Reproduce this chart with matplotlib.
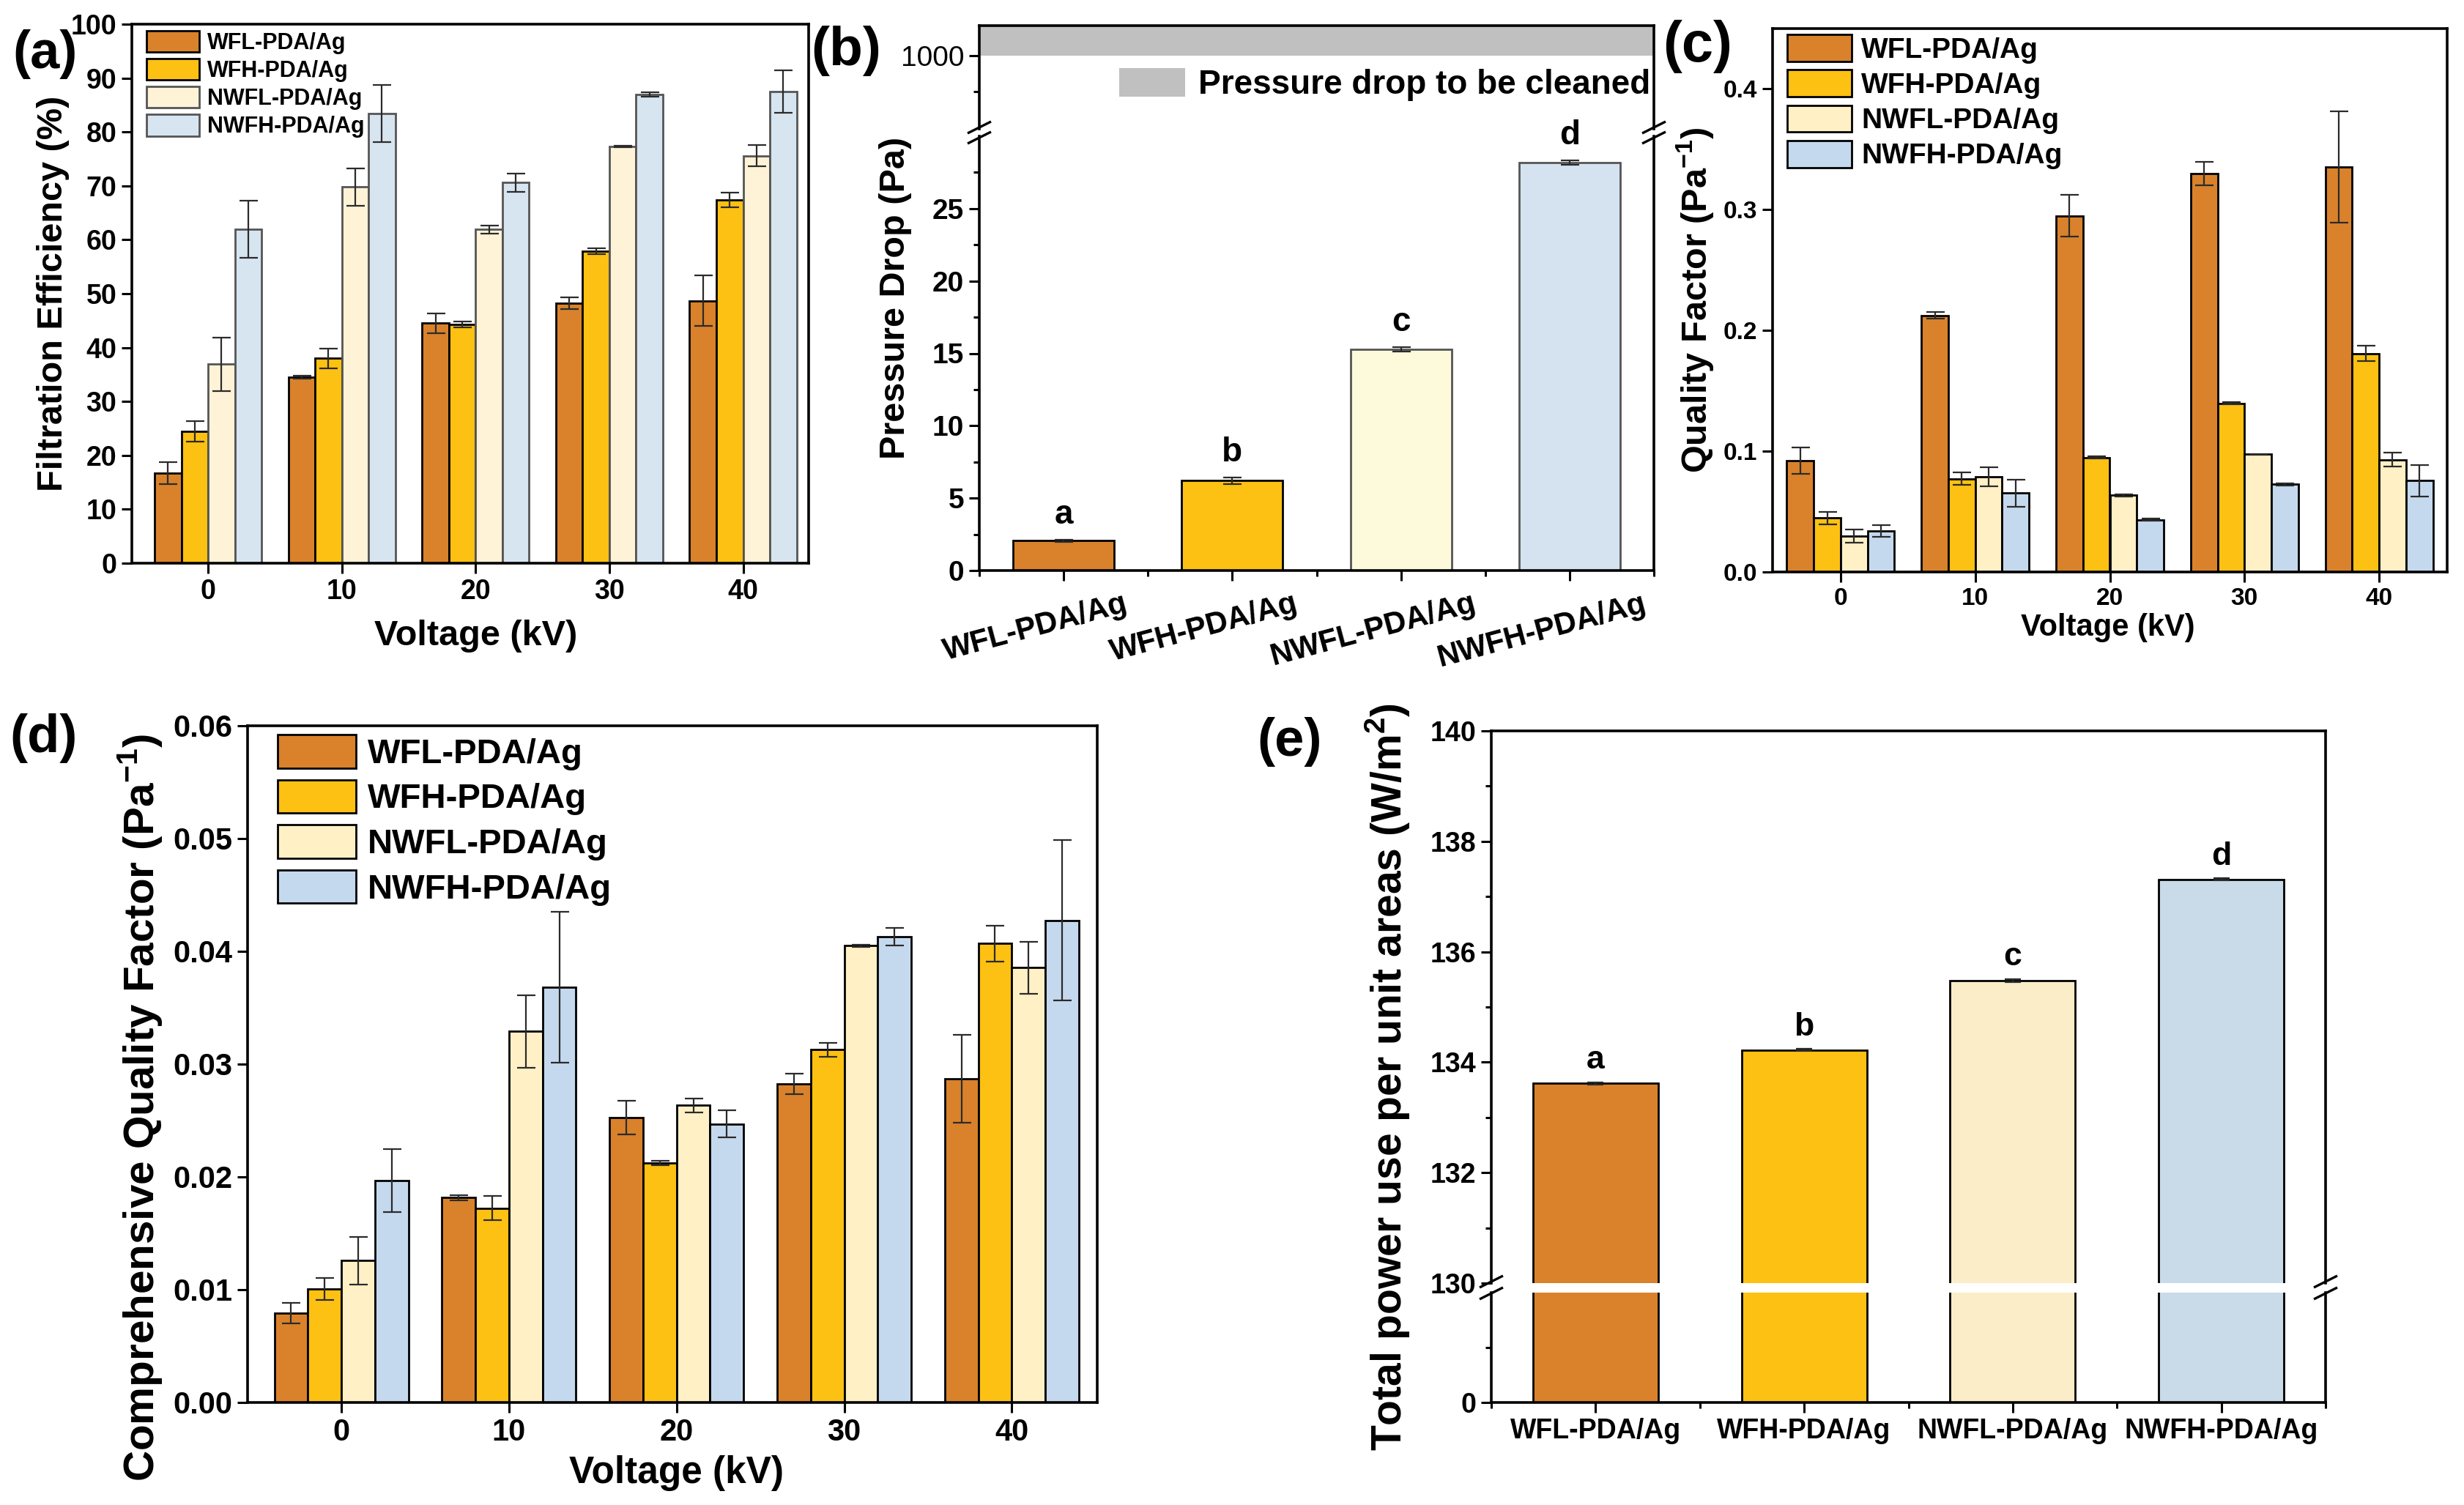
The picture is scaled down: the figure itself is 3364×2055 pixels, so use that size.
import numpy as np
import matplotlib
matplotlib.use('Agg')
import matplotlib.pyplot as plt
from matplotlib.lines import Line2D
from matplotlib.patches import Patch
from matplotlib.ticker import MultipleLocator, FixedLocator, FormatStrFormatter
from matplotlib.transforms import ScaledTranslation

W, H = 3364, 2055

plt.rcParams['font.family'] = ['Liberation Sans', 'DejaVu Sans']
plt.rcParams['font.weight'] = 'bold'
plt.rcParams['mathtext.fontset'] = 'custom'
plt.rcParams['mathtext.rm'] = 'Liberation Sans:bold'
plt.rcParams['mathtext.bf'] = 'Liberation Sans:bold'
plt.rcParams['axes.linewidth'] = 2.6

# ---- data ----
voltages = [0, 10, 20, 30, 40]
samples = ['WFL-PDA/Ag', 'WFH-PDA/Ag', 'NWFL-PDA/Ag', 'NWFH-PDA/Ag']

# (a) filtration efficiency (%), rows = samples, cols = voltage
eff_mean = [[16.7, 34.5, 44.5, 48.2, 48.7],
            [24.4, 38.0, 44.3, 57.9, 67.4],
            [36.9, 69.8, 61.9, 77.3, 75.6],
            [61.9, 83.4, 70.6, 87.0, 87.5]]
eff_err = [[2.0, 0.3, 1.8, 1.1, 4.7],
           [1.9, 1.8, 0.5, 0.5, 1.4],
           [5.0, 3.5, 0.8, 0.1, 2.0],
           [5.3, 5.3, 1.7, 0.4, 3.9]]

# (b) pressure drop (Pa)
pd_mean = [2.05, 6.2, 15.3, 28.2]
pd_err = [0.1, 0.25, 0.15, 0.15]
pd_letters = ['a', 'b', 'c', 'd']
clean_limit = 1000

# (c) quality factor (Pa^-1)
qf_mean = [[0.0923, 0.2125, 0.295, 0.330, 0.3355],
           [0.0446, 0.0773, 0.0948, 0.1397, 0.181],
           [0.0296, 0.0790, 0.0634, 0.0976, 0.093],
           [0.0341, 0.0652, 0.0432, 0.0725, 0.0756]]
qf_err = [[0.011, 0.0026, 0.0172, 0.0096, 0.046],
          [0.005, 0.005, 0.001, 0.001, 0.0066],
          [0.0055, 0.008, 0.001, 0.0003, 0.0056],
          [0.005, 0.0115, 0.001, 0.001, 0.013]]

# (d) comprehensive quality factor (Pa^-1)
cqf_mean = [[0.0079, 0.01815, 0.02524, 0.02826, 0.02871],
            [0.01006, 0.01724, 0.02126, 0.03128, 0.0407],
            [0.01257, 0.0329, 0.02634, 0.0405, 0.03855],
            [0.01966, 0.0368, 0.02469, 0.0413, 0.04275]]
cqf_err = [[0.0009, 0.0002, 0.0015, 0.0009, 0.0039],
           [0.001, 0.0011, 0.0002, 0.0006, 0.0016],
           [0.0021, 0.0032, 0.0006, 0.0001, 0.0023],
           [0.0028, 0.0067, 0.0012, 0.0008, 0.0071]]

# (e) total power use per unit area (W/m2)
power_mean = [133.62, 134.22, 135.48, 137.31]
power_err = [0.02, 0.02, 0.03, 0.02]
power_letters = ['a', 'b', 'c', 'd']

# ---- style ----
c_wfl, c_wfh = '#D9822B', '#FCC112'
pal_a = [c_wfl, c_wfh, '#FEF3D7', '#D7E5F1']
pal_b = [c_wfl, c_wfh, '#FDFADC', '#D5E3F0']
pal_c = [c_wfl, c_wfh, '#FFF0C6', '#C5D9EE']
pal_e = [c_wfl, c_wfh, '#FAEDC8', '#C9DAE8']
edge_soft = ['black', 'black', '#555555', '#555555']
edge_k = ['black'] * 4
ERR_KW = dict(ecolor='#2b2b2b', elinewidth=1.6, capthick=1.6)
offsets = np.linspace(-3, 3, 4)


def rect(l, t, r, b):
    return [l / W, 1 - b / H, (r - l) / W, (b - t) / H]


def style(ax, lsize):
    for s in ax.spines.values():
        s.set_linewidth(2.6)
    ax.tick_params(which='major', direction='out', length=10, width=2.2,
                   labelsize=lsize, pad=5, top=False, right=False)
    ax.tick_params(which='minor', direction='out', length=6, width=2.2,
                   top=False, right=False)
    for lab in ax.get_xticklabels() + ax.get_yticklabels():
        lab.set_fontweight('bold')


def grouped(ax, means, errs, colors, edges):
    x = np.array(voltages, dtype=float)
    for i in range(len(samples)):
        ax.bar(x + offsets[i], means[i], width=2, color=colors[i],
               edgecolor=edges[i], linewidth=2.0, label=samples[i],
               yerr=errs[i], capsize=9, error_kw=ERR_KW, zorder=2)
    ax.set_xticks(voltages)


def slashes(xpx, ypx, dy=7, half=(16, 8)):
    for d in (-dy, dy):
        fig.add_artist(Line2D([(xpx - half[0]) / W, (xpx + half[0]) / W],
                              [1 - (ypx + d + half[1]) / H, 1 - (ypx + d - half[1]) / H],
                              color='black', lw=2.4, solid_capstyle='butt'))


def panel_label(txt, xpx, ypx, size):
    fig.text(xpx / W, 1 - ypx / H, txt, fontsize=size, fontweight='bold',
             ha='center', va='center')


fig = plt.figure(figsize=(W / 100, H / 100), dpi=100)

# ---- (a) ----
ax = fig.add_axes(rect(180, 33, 1104, 769))
grouped(ax, eff_mean, eff_err, pal_a, edge_soft)
ax.set_xlim(-5.7, 44.9)
ax.set_ylim(0, 100)
ax.yaxis.set_major_locator(MultipleLocator(10))
style(ax, 27)
ax.set_ylabel('Filtration Efficiency (%)', fontsize=35, fontweight='bold')
ax.yaxis.set_label_coords(-0.092, 0.5)
ax.set_xlabel('Voltage (kV)', fontsize=35, fontweight='bold')
ax.xaxis.set_label_coords(0.508, -0.105)
ax.legend(loc='upper left', bbox_to_anchor=(0.022, 0.988), frameon=False,
          prop={'weight': 'bold', 'size': 22},
          handlelength=2.35, handleheight=1.1, labelspacing=0.2,
          handletextpad=0.35, borderpad=0, borderaxespad=0)
panel_label('(a)', 62, 74, 52)

# ---- (b) ----
axu = fig.add_axes(rect(1337, 35, 2258, 176))
axl = fig.add_axes(rect(1337, 186, 2258, 779))
xb = np.arange(len(samples))
axu.axhspan(clean_limit, 1042, color='#C0C0C0', lw=0)
axu.set_ylim(898, 1042)
axu.set_xlim(-0.5, 3.5)
axu.yaxis.set_major_locator(FixedLocator([clean_limit]))
axu.yaxis.set_minor_locator(FixedLocator([950]))
axu.set_xticks([])
axu.spines['bottom'].set_visible(False)
style(axu, 28)
for lab in axu.get_yticklabels():
    lab.set_fontweight('normal')
axu.legend(handles=[Patch(facecolor='#C0C0C0', edgecolor='none',
                          label='Pressure drop to be cleaned')],
           loc='center right', bbox_to_anchor=(0.995, 0.43), frameon=False,
           fontsize=33, handlelength=1.95, handleheight=0.95, handletextpad=0.4,
           borderpad=0, borderaxespad=0)

axl.bar(xb, pd_mean, width=0.6, color=pal_b, edgecolor=edge_soft, linewidth=2.0,
        yerr=pd_err, capsize=9, error_kw=ERR_KW, zorder=2)
for xi, m, e, t in zip(xb, pd_mean, pd_err, pd_letters):
    axl.text(xi, m + e + 0.6, t, ha='center', va='bottom', fontsize=33,
             fontweight='bold')
axl.set_xlim(-0.5, 3.5)
axl.set_ylim(0, 30)
axl.yaxis.set_major_locator(FixedLocator([0, 5, 10, 15, 20, 25]))
axl.yaxis.set_minor_locator(FixedLocator([2.5, 7.5, 12.5, 17.5, 22.5, 27.5]))
axl.set_xticks(xb)
axl.set_xticklabels(samples, rotation=15, ha='center')
axl.xaxis.set_minor_locator(FixedLocator([-0.5, 0.5, 1.5, 2.5, 3.5]))
axl.spines['top'].set_visible(False)
style(axl, 28)
axl.tick_params(axis='x', which='major', labelsize=30, pad=8)
shift = ScaledTranslation(-0.38, 0, fig.dpi_scale_trans)
for lab in axl.get_xticklabels():
    lab.set_transform(lab.get_transform() + shift)
axl.set_ylabel('Pressure Drop (Pa)', fontsize=35, fontweight='bold')
axl.yaxis.set_label_coords(-0.10, 0.627)
slashes(1337, 181)
slashes(2258, 181)
panel_label('(b)', 1155, 70, 54)

# ---- (c) ----
ax = fig.add_axes(rect(2420, 39, 3341, 781))
grouped(ax, qf_mean, qf_err, pal_c, edge_k)
ax.set_xlim(-5.06, 45.06)
ax.set_ylim(0, 0.45)
ax.yaxis.set_major_locator(MultipleLocator(0.1))
style(ax, 24)
ax.set_ylabel('Quality Factor (Pa$^{-1}$)', fontsize=35, fontweight='bold')
ax.yaxis.set_label_coords(-0.085, 0.5)
ax.set_xlabel('Voltage (kV)', fontsize=30, fontweight='bold')
ax.xaxis.set_label_coords(0.497, -0.075)
ax.legend(loc='upper left', bbox_to_anchor=(0.022, 0.989), frameon=False,
          fontsize=28, handlelength=2.26, handleheight=1.08, labelspacing=0.22,
          handletextpad=0.33, borderpad=0, borderaxespad=0)
panel_label('(c)', 2318, 64, 56)

# ---- (d) ----
ax = fig.add_axes(rect(338, 991, 1498, 1915))
grouped(ax, cqf_mean, cqf_err, pal_c, edge_k)
ax.set_xlim(-5.6, 45.1)
ax.set_ylim(0, 0.06)
ax.yaxis.set_major_locator(MultipleLocator(0.01))
ax.yaxis.set_major_formatter(FormatStrFormatter('%.2f'))
style(ax, 30)
ax.set_ylabel('Comprehensive Quality Factor (Pa$^{-1}$)', fontsize=42,
              fontweight='bold')
ax.yaxis.set_label_coords(-0.097, 0.436)
ax.set_xlabel('Voltage (kV)', fontsize=37, fontweight='bold')
ax.xaxis.set_label_coords(0.505, -0.078)
ax.legend(loc='upper left', bbox_to_anchor=(0.035, 0.987), frameon=False,
          fontsize=34, handlelength=2.27, handleheight=1.11, labelspacing=0.27,
          handletextpad=0.34, borderpad=0, borderaxespad=0)
panel_label('(d)', 60, 1008, 52)

# ---- (e) ----
axu = fig.add_axes(rect(2036, 998, 3175, 1752))
axl = fig.add_axes(rect(2036, 1765, 3175, 1915))
xe = np.arange(len(samples))
for a_ in (axu, axl):
    a_.bar(xe, power_mean, width=0.6, color=pal_e, edgecolor=edge_k,
           linewidth=2.0, zorder=2)
    a_.set_xlim(-0.5, 3.5)
axu.errorbar(xe, power_mean, yerr=power_err, fmt='none', capsize=8, **ERR_KW)
for xi, m, e, t in zip(xe, power_mean, power_err, power_letters):
    axu.text(xi, m + e + 0.12, t, ha='center', va='bottom', fontsize=32,
             fontweight='bold')
axu.set_ylim(130, 140)
axu.yaxis.set_major_locator(MultipleLocator(2))
axu.yaxis.set_minor_locator(MultipleLocator(1))
axu.set_xticks([])
axu.spines['bottom'].set_visible(False)
style(axu, 27)
axl.set_ylim(0, 2)
axl.yaxis.set_major_locator(FixedLocator([0]))
axl.yaxis.set_minor_locator(FixedLocator([1]))
axl.set_xticks(xe)
axl.set_xticklabels(samples)
axl.xaxis.set_minor_locator(FixedLocator([-0.5, 0.5, 1.5, 2.5, 3.5]))
axl.spines['top'].set_visible(False)
style(axl, 27)
axu.set_ylabel('Total power use per unit areas (W/m$^{2}$)', fontsize=41,
               fontweight='bold')
axu.yaxis.set_label_coords(-0.095, 0.374)
slashes(2036, 1758, dy=8)
slashes(3175, 1758, dy=8)
panel_label('(e)', 1761, 1013, 52)

fig.savefig('out.png', dpi=100)
